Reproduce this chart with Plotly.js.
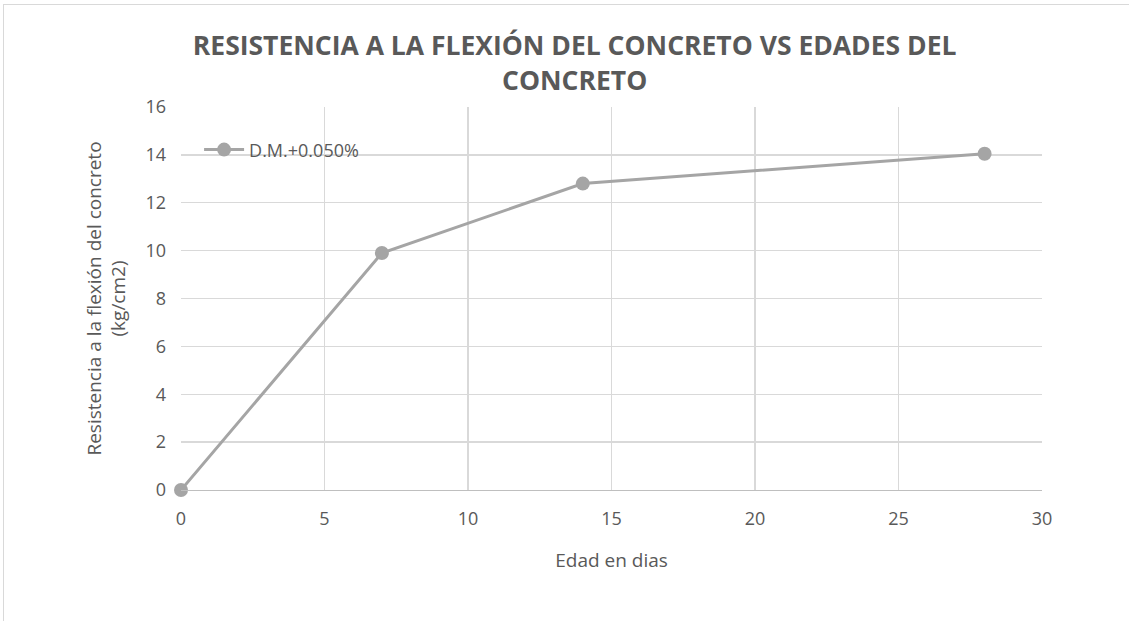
<!DOCTYPE html>
<html>
<head>
<meta charset="utf-8">
<script src="https://cdn.plot.ly/plotly-3.0.1.min.js"></script>
<style>
html,body{margin:0;padding:0;background:#fff;}
#frame{position:absolute;left:3px;top:4px;width:1140px;height:640px;border-left:1px solid #d9d9d9;border-top:1px solid #d9d9d9;}
#chart{position:absolute;left:0;top:0;width:1129px;height:621px;}
</style>
</head>
<body>
<div id="frame"></div>
<div id="chart"></div>
<script>
const seriesName = 'D.M.+0.050%';
const edades = [0, 7, 14, 28];
const resistencia = [0, 9.9, 12.8, 14.05];

const trace = {
  x: edades,
  y: resistencia,
  name: seriesName,
  type: 'scatter',
  mode: 'lines+markers',
  line: {color: '#a5a5a5', width: 3},
  marker: {color: '#a5a5a5', size: 14},
  cliponaxis: false,
  showlegend: true
};

const grey = '#595959';
const layout = {
  width: 1129,
  height: 621,
  paper_bgcolor: 'rgba(0,0,0,0)',
  plot_bgcolor: 'rgba(0,0,0,0)',
  margin: {l: 181, r: 87, t: 107, b: 131},
  font: {family: 'Open Sans, sans-serif', color: grey},
  title: {
    text: 'RESISTENCIA A LA FLEXIÓN DEL CONCRETO VS EDADES DEL<br>CONCRETO',
    font: {size: 26.5, color: grey, family: 'Open Sans, sans-serif', weight: 'bold'},
    x: 0.509, xanchor: 'center', y: 0.911, yanchor: 'top'
  },
  xaxis: {
    range: [0, 30],
    dtick: 5,
    tick0: 0,
    showgrid: true,
    gridcolor: '#d9d9d9',
    gridwidth: 1.3,
    zeroline: false,
    showline: true,
    linecolor: '#bfbfbf',
    linewidth: 1.3,
    ticks: '',
    ticklabelstandoff: 12,
    tickfont: {size: 18, color: grey},
    title: {text: 'Edad en dias', font: {size: 19, color: grey}, standoff: 24}
  },
  yaxis: {
    range: [0, 16],
    dtick: 2,
    tick0: 0,
    showgrid: true,
    gridcolor: '#d9d9d9',
    gridwidth: 1.3,
    zeroline: false,
    showline: false,
    ticks: '',
    ticklabelstandoff: 14,
    tickfont: {size: 18, color: grey},
    title: {text: 'Resistencia a la flexión del concreto<br>(kg/cm2)', font: {size: 19, color: grey}, standoff: 14}
  },
  legend: {
    x: 0.021, xanchor: 'left',
    y: 0.888, yanchor: 'middle',
    bgcolor: 'rgba(0,0,0,0)',
    font: {size: 18, color: grey},
    itemwidth: 40
  }
};

Plotly.newPlot('chart', [trace], layout, {displayModeBar: false, staticPlot: true});
</script>
</body>
</html>
